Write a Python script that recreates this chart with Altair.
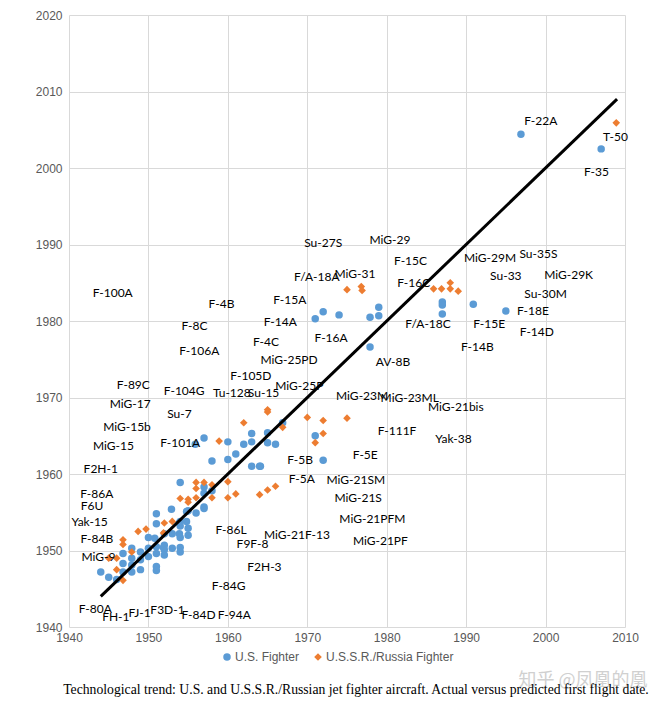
import altair as alt
import pandas as pd

# U.S. fighters (first flight actual-year on x, predicted on y)
us_x = [1944.0, 1945.0, 1946.0, 1946.8, 1947.9, 1949.0, 1951.0, 1951.0, 1946.8, 1947.9,
        1946.8, 1947.9, 1949.0, 1947.9, 1949.0, 1950.0, 1950.0, 1951.0, 1951.0, 1952.0,
        1952.0, 1952.0, 1953.0, 1954.0, 1954.0, 1950.0, 1952.0, 1953.0, 1954.0, 1955.0,
        1955.0, 1954.0, 1954.0, 1951.0, 1951.0, 1952.9, 1955.0, 1956.0, 1957.0, 1954.0,
        1957.0, 1957.0, 1958.0, 1954.8, 1957.0, 1953.9, 1954.8, 1953.9, 1950.8, 1951.9,
        1957.0, 1955.9, 1958.0, 1960.0, 1960.0, 1961.0, 1962.0, 1963.0, 1963.0, 1963.0,
        1964.0, 1965.0, 1965.0, 1966.0, 1966.9, 1971.0, 1972.0, 1964.1,
        1971.0, 1972.0, 1974.0, 1977.9, 1979.0, 1979.0, 1977.9, 1987.0, 1987.0, 1987.0,
        1990.9, 1995.0, 1996.9, 2007.0]
us_y = [1947.2, 1946.5, 1946.2, 1947.2, 1947.2, 1947.5, 1947.9, 1947.4, 1948.3, 1948.1,
        1949.6, 1949.0, 1948.8, 1950.3, 1949.8, 1950.3, 1949.2, 1950.5, 1949.6, 1950.7,
        1950.1, 1949.4, 1950.3, 1950.4, 1949.8, 1951.7, 1952.2, 1952.2, 1951.7, 1952.0,
        1952.9, 1953.8, 1953.2, 1953.5, 1954.8, 1955.4, 1955.2, 1954.9, 1955.5, 1958.9,
        1958.3, 1957.5, 1957.8, 1955.1, 1955.7, 1953.6, 1953.8, 1952.2, 1951.6, 1950.4,
        1964.7, 1963.9, 1961.7, 1961.9, 1964.2, 1962.6, 1963.9, 1964.2, 1965.3, 1961.0,
        1961.0, 1965.4, 1964.1, 1963.9, 1966.7, 1965.0, 1961.8, 1961.0,
        1980.3, 1981.2, 1980.8, 1980.5, 1981.8, 1980.7, 1976.6, 1982.5, 1982.1, 1980.9,
        1982.2, 1981.3, 2004.4, 2002.5]

# U.S.S.R./Russia fighters
ussr_x = [1945.0, 1946.0, 1946.0, 1946.8, 1946.8, 1946.8, 1947.9, 1948.7, 1949.7, 1951.9,
          1952.0, 1953.0, 1954.0, 1955.0, 1955.0, 1956.0, 1956.0, 1956.0, 1957.0, 1958.0,
          1958.0, 1960.0, 1960.0, 1961.0, 1964.0, 1965.0, 1966.0, 1958.9, 1962.0, 1965.0,
          1965.0, 1966.9, 1970.0, 1972.0, 1972.0, 1971.0, 1975.0, 1975.0, 1976.8, 1976.9,
          1985.9, 1986.9, 1988.0, 1988.0, 1989.0, 2008.9]
ussr_y = [1949.0, 1949.0, 1947.5, 1946.1, 1951.4, 1950.8, 1949.8, 1952.5, 1952.8, 1952.3,
          1953.6, 1953.8, 1956.8, 1956.7, 1956.3, 1956.9, 1958.9, 1958.1, 1958.9, 1958.6,
          1956.9, 1959.0, 1956.9, 1957.4, 1957.3, 1957.9, 1958.4, 1964.3, 1966.7, 1968.1,
          1968.4, 1966.1, 1967.4, 1967.0, 1965.3, 1964.1, 1967.3, 1984.1, 1984.5, 1984.0,
          1984.2, 1984.2, 1984.2, 1985.0, 1983.9, 2005.9]

trend_x = [1944, 2009]
trend_y = [1944, 2009]

label_text = ["F-22A", "T-50", "F-35", "MiG-29", "F-15C", "F-16C", "MiG-29M", "Su-35S",
              "Su-33", "MiG-29K", "Su-30M", "F-18E", "Su-27S", "F/A-18A", "MiG-31", "F-100A",
              "F-4B", "F-15A", "F-14A", "F-8C", "F-16A", "F-4C", "F-106A", "MiG-25PD",
              "F-105D", "F-89C", "F-104G", "Tu-128", "Su-15", "MiG-25P", "MiG-17", "Su-7",
              "MiG-15b", "F-101A", "MiG-15", "F2H-1", "F-5B", "F-5A", "F-86A", "F6U",
              "Yak-15", "F-86L", "MiG-21F-13", "F-84B", "F9F-8", "MiG-9", "F2H-3", "F-84G",
              "F-80A", "FH-1", "FJ-1", "F3D-1", "F-84D", "F-94A", "MiG-23M", "MiG-23ML",
              "MiG-21bis", "F-111F", "Yak-38", "F-5E", "MiG-21SM", "MiG-21S", "MiG-21PFM",
              "MiG-21PF", "F/A-18C", "F-15E", "F-14D", "F-14B", "AV-8B"]
label_x = [1999.4, 2008.8, 2006.4, 1980.4, 1983.0, 1983.4, 1993.0, 1999.1,
           1995.0, 2002.9, 2000.0, 1998.4, 1972.0, 1971.2, 1976.0, 1945.5,
           1959.2, 1967.8, 1966.6, 1955.8, 1973.0, 1964.8, 1956.4, 1967.7,
           1962.9, 1948.1, 1954.5, 1960.5, 1964.5, 1969.0, 1947.7, 1953.9,
           1947.3, 1954.0, 1945.6, 1944.0, 1969.1, 1969.3, 1943.5, 1942.9,
           1942.6, 1960.4, 1968.7, 1943.5, 1963.1, 1943.7, 1964.6, 1960.1,
           1943.3, 1945.9, 1948.9, 1952.4, 1956.3, 1960.8, 1976.9, 1982.9,
           1988.7, 1981.3, 1988.4, 1977.3, 1976.1, 1976.4, 1978.2,
           1979.2, 1985.2, 1992.9, 1998.9, 1991.4, 1980.8]
label_y = [2006.2, 2004.0, 1999.5, 1990.6, 1987.8, 1985.0, 1988.2, 1988.8,
           1985.9, 1986.0, 1983.5, 1981.3, 1990.2, 1985.7, 1986.1, 1983.6,
           1982.2, 1982.8, 1979.9, 1979.3, 1977.8, 1977.2, 1976.1, 1974.9,
           1972.8, 1971.6, 1970.9, 1970.6, 1970.6, 1971.5, 1969.2, 1967.8,
           1966.2, 1964.0, 1963.7, 1960.7, 1961.8, 1959.3, 1957.4, 1955.8,
           1953.7, 1952.7, 1952.0, 1951.5, 1950.8, 1949.1, 1947.8, 1945.4,
           1942.3, 1941.3, 1941.8, 1942.2, 1941.6, 1941.6, 1970.2, 1970.0,
           1968.8, 1965.6, 1964.6, 1962.5, 1959.2, 1956.9, 1954.1,
           1951.2, 1979.6, 1979.6, 1978.6, 1976.6, 1974.7]

series_names = ["U.S. Fighter", "U.S.S.R./Russia Fighter"]
caption = "Technological trend: U.S. and U.S.S.R./Russian jet fighter aircraft. Actual versus predicted first flight date."
watermark = "知乎 @凤凰的凰"

pts = pd.concat([
    pd.DataFrame({"x": us_x, "y": us_y, "series": series_names[0]}),
    pd.DataFrame({"x": ussr_x, "y": ussr_y, "series": series_names[1]}),
])
trend = pd.DataFrame({"x": trend_x, "y": trend_y})
labels = pd.DataFrame({"x": label_x, "y": label_y, "t": label_text})

xs = alt.Scale(domain=[1940, 2010], nice=False, zero=False)
ys = alt.Scale(domain=[1940, 2020], nice=False, zero=False)
xax = alt.Axis(values=list(range(1940, 2011, 10)), title=None, format="d", labelFlush=False,
               labelOverlap=False, labelPadding=5)
yax = alt.Axis(values=list(range(1940, 2021, 10)), title=None, format="d", labelFlush=False,
               labelOverlap=False, labelPadding=7)

points = alt.Chart(pts).mark_point(filled=True, opacity=1, strokeWidth=0).encode(
    x=alt.X("x:Q", scale=xs, axis=xax),
    y=alt.Y("y:Q", scale=ys, axis=yax),
    color=alt.Color("series:N",
                    scale=alt.Scale(domain=series_names, range=["#5B9BD5", "#ED7D31"]),
                    legend=alt.Legend(title=None, orient="none", legendX=152, legendY=636,
                                      direction="horizontal", labelFont="Liberation Sans",
                                      labelFontSize=12, labelColor="#595959", symbolSize=30,
                                      labelOffset=2, columnPadding=12)),
    shape=alt.Shape("series:N",
                    scale=alt.Scale(domain=series_names, range=["circle", "diamond"])),
    size=alt.Size("series:N", scale=alt.Scale(domain=series_names, range=[56, 58]), legend=None),
)

line = alt.Chart(trend).mark_line(color="black", strokeWidth=3).encode(
    x=alt.X("x:Q", scale=xs), y=alt.Y("y:Q", scale=ys))

text = alt.Chart(labels).mark_text(font="Lato", fontSize=12, color="black",
                                   align="center", baseline="middle").encode(
    x=alt.X("x:Q", scale=xs), y=alt.Y("y:Q", scale=ys), text="t:N")

wm = alt.Chart(pd.DataFrame({"t": [watermark]})).mark_text(
    font="Noto Sans CJK SC", fontSize=18, color="#d0d0d0", align="center", baseline="middle"
).encode(text="t:N", x=alt.value(514), y=alt.value(666))

cap = alt.Chart(pd.DataFrame({"t": [caption]})).mark_text(
    font="Liberation Serif", fontSize=13.7, color="black", align="center", baseline="middle"
).encode(text="t:N", x=alt.value(287), y=alt.value(675))

chart = alt.layer(points, line, text, wm, cap).properties(
    width=556, height=612,
    autosize=alt.AutoSizeParams(type="none"),
    padding={"left": 61, "top": 7, "right": 37, "bottom": 85},
).configure_axis(
    grid=True, gridColor="#d9d9d9", domain=False, ticks=False,
    labelFont="Liberation Sans", labelFontSize=12, labelColor="#595959",
).configure_view(stroke=None)

chart.save("out.html", embed_options={"renderer": "svg", "actions": False})
